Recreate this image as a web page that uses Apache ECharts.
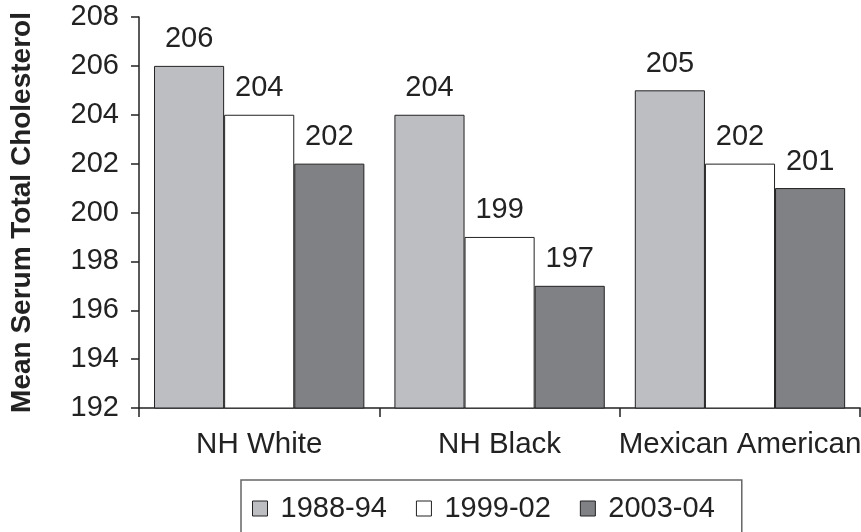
<!DOCTYPE html>
<html>
<head>
<meta charset="utf-8">
<script src="https://cdn.jsdelivr.net/npm/echarts@6/dist/echarts.min.js"></script>
<style>
  html, body { margin: 0; padding: 0; background: #fff; }
  #chart { width: 861px; height: 532px; }
</style>
</head>
<body>
<div id="chart"></div>
<script>
// categories and series values
const groups = [ 'NH White', 'NH Black', 'Mexican American' ];
const period1 = [ 206, 204, 205 ]; // 1988-94
const period2 = [ 204, 199, 202 ]; // 1999-02
const period3 = [ 202, 197, 201 ]; // 2003-04
const seriesNames = [ '1988-94', '1999-02', '2003-04' ];
const yTicks = { min: 192, max: 208, step: 2 };

const font = 'Arial, "Liberation Sans", Helvetica, sans-serif';
const ink = '#222';
const fills = [ '#bdbec2', '#ffffff', '#808185' ];

const makeSeries = ( name, data, i ) => ( {
	name,
	type: 'bar',
	data,
	barGap: '0%',
	barCategoryGap: '12.5%',
	itemStyle: { color: fills[ i ], borderColor: ink, borderWidth: 1 },
	label: {
		show: true,
		position: 'top',
		distance: 12,
		color: ink,
		fontFamily: font,
		fontSize: 29
	}
} );

const chart = echarts.init( document.getElementById( 'chart' ), null, { renderer: 'canvas' } );

chart.setOption( {
	animation: false,
	backgroundColor: '#fff',
	grid: { left: 125, right: -5, top: 17, bottom: 124, containLabel: false },
	legend: {
		data: seriesNames,
		left: 241,
		top: 480,
		icon: 'rect',
		itemWidth: 15,
		itemHeight: 15,
		itemGap: 29,
		padding: [ 14, 27, 30, 11 ],
		borderColor: '#666',
		borderWidth: 1.5,
		itemStyle: { borderColor: ink, borderWidth: 1 },
		textStyle: { color: ink, fontFamily: font, fontSize: 29, padding: [ 0, 0, 0, 8 ] }
	},
	xAxis: {
		type: 'category',
		data: groups,
		axisLine: { lineStyle: { color: ink, width: 1.5 } },
		axisTick: { show: true, length: 9, lineStyle: { color: ink, width: 1.5 } },
		axisLabel: { color: ink, fontFamily: font, fontSize: 29.5, margin: 22, interval: 0 }
	},
	yAxis: {
		type: 'value',
		min: yTicks.min,
		max: yTicks.max,
		interval: yTicks.step,
		name: 'Mean Serum Total Cholesterol',
		nameLocation: 'middle',
		nameGap: 103,
		nameTextStyle: { color: ink, fontFamily: font, fontSize: 28, fontWeight: 'bold' },
		splitLine: { show: false },
		axisLine: { show: true, lineStyle: { color: ink, width: 1.5 } },
		axisTick: { show: true, length: 8, lineStyle: { color: ink, width: 1.5 } },
		axisLabel: { color: ink, fontFamily: font, fontSize: 29, margin: 20 }
	},
	series: [
		makeSeries( seriesNames[ 0 ], period1, 0 ),
		makeSeries( seriesNames[ 1 ], period2, 1 ),
		makeSeries( seriesNames[ 2 ], period3, 2 )
	]
} );
</script>
</body>
</html>
